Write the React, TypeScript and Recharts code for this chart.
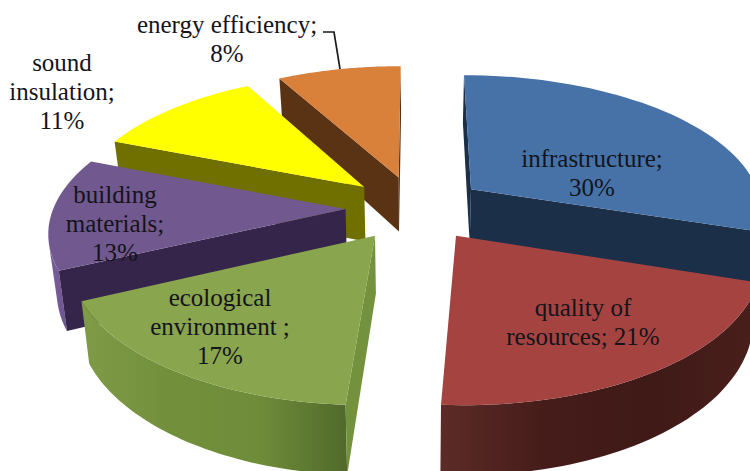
import { Pie, PieChart } from 'recharts';

// Slices in paint order: back slices first, the front red one last.
const CATEGORIES = [
  'infrastructure',
  'energy efficiency',
  'sound insulation',
  'building materials',
  'ecological environment',
  'quality of resources',
];
const SHARES = [30, 8, 11, 13, 17, 21];
const LABEL_LINES = [
  ['infrastructure;', '{pct}'],
  ['energy efficiency;', '{pct}'],
  ['sound', 'insulation;', '{pct}'],
  ['building', 'materials;', '{pct}'],
  ['ecological', 'environment ;', '{pct}'],
  ['quality of', 'resources; {pct}'],
];

const LABEL_ANCHORS = [
  { x: 592, y: 167 },
  { x: 227, y: 33 },
  { x: 62, y: 71 },
  { x: 115, y: 203 },
  { x: 220, y: 306 },
  { x: 583, y: 316 },
];
const LINE_GAP = 29;

const FACE_COLORS = ['#4672a8', '#d9803b', '#ffff00', '#71588f', '#89a54e', '#a44340'];
const CUT_COLORS = ['#1b2f49', '#5a3214', '#6f7000', '#35254a', '#74923e', '#4a1f1b'];
const RIM_STOPS = [
  ['#1b2f49', '#1b2f49'],
  ['#5a3214', '#5a3214'],
  ['#6f7000', '#6f7000'],
  ['#7a5f9d', '#6d5590'],
  ['#7f9b48', '#728f3c', '#6f8c3a', '#516a2b'],
  ['#5c2b27', '#451c19', '#3f1a17', '#4a1f1b'],
];

const chartData = CATEGORIES.map((name, i) => ({ name, share: SHARES[i], fill: FACE_COLORS[i] }));

// Tilted camera used to lay the flat pie over the page
const CX = 415.5;
const CY = 208;
const RADIUS = 292;
const EXPLODE = 70;
const TILT = 0.465;
const PERSPECTIVE = 0.0005;
const DEPTH = 56;
const DEPTH_SHRINK = 0.023;

type Pt = [number, number];

function project(u: number, v: number, lower: boolean): Pt {
  const f = 1 / (1 - PERSPECTIVE * v);
  const s = lower ? 1 - DEPTH_SHRINK : 1;
  const x = CX + u * f * s;
  const y = CY + TILT * v * f * s + (lower ? DEPTH * Math.pow(f, 1.5) : 0);
  return [x, y];
}

function area(pts: Pt[]) {
  let sum = 0;
  pts.forEach((p, i) => {
    const q = pts[(i + 1) % pts.length];
    sum += p[0] * q[1] - q[0] * p[1];
  });
  return sum / 2;
}

const toPath = (pts: Pt[]) => 'M' + pts.map((p) => `${p[0].toFixed(1)},${p[1].toFixed(1)}`).join('L') + 'Z';

function Slice3D(props: any) {
  const { startAngle, endAngle, outerRadius, name } = props;
  const index = CATEGORIES.indexOf(name);
  const rad = Math.PI / 180;
  const mid = ((startAngle + endAngle) / 2) * rad;
  const ou = EXPLODE * Math.cos(mid);
  const ov = -EXPLODE * Math.sin(mid);

  const world: Pt[] = [];
  const steps = 48;
  for (let i = 0; i <= steps; i++) {
    const a = (startAngle + ((endAngle - startAngle) * i) / steps) * rad;
    world.push([ou + outerRadius * Math.cos(a), ov - outerRadius * Math.sin(a)]);
  }

  const apexTop = project(ou, ov, false);
  const apexLow = project(ou, ov, true);
  const top = world.map((w) => project(w[0], w[1], false));
  const low = world.map((w) => project(w[0], w[1], true));
  const topPoly = [apexTop, ...top];
  const sign = Math.sign(area(topPoly));

  // A side wall shows only when it winds against the top face
  const cuts: Pt[][] = [
    [apexTop, top[0], low[0], apexLow],
    [top[steps], apexTop, apexLow, low[steps]],
  ].filter((q) => Math.sign(area(q as Pt[])) !== sign) as Pt[][];

  const rimTop: Pt[] = [];
  const rimLow: Pt[] = [];
  for (let i = 0; i < steps; i++) {
    const quad: Pt[] = [top[i], top[i + 1], low[i + 1], low[i]];
    if (Math.sign(area(quad)) !== sign) {
      if (!rimTop.length) {
        rimTop.push(top[i]);
        rimLow.push(low[i]);
      }
      rimTop.push(top[i + 1]);
      rimLow.push(low[i + 1]);
    }
  }
  const rim = [...rimTop, ...rimLow.reverse()];
  const xs = rim.map((p) => p[0]);
  const stops = RIM_STOPS[index];
  const gradId = `rim-${index}`;

  return (
    <g>
      {rim.length > 0 && (
        <>
          <defs>
            <linearGradient
              id={gradId}
              gradientUnits="userSpaceOnUse"
              x1={Math.min(...xs)}
              x2={Math.max(...xs)}
              y1={0}
              y2={0}
            >
              {stops.map((c, i) => (
                <stop key={i} offset={i / (stops.length - 1)} stopColor={c} />
              ))}
            </linearGradient>
          </defs>
          <path d={toPath(rim)} fill={`url(#${gradId})`} />
        </>
      )}
      {cuts.map((q, i) => (
        <path key={i} d={toPath(q)} fill={CUT_COLORS[index]} />
      ))}
      <path d={toPath(topPoly)} fill={FACE_COLORS[index]} />
    </g>
  );
}

function SliceLabel(props: any) {
  const index = CATEGORIES.indexOf(props.name);
  const anchor = LABEL_ANCHORS[index];
  const pct = `${SHARES[index]}%`;
  return (
    <g>
      {props.name === 'energy efficiency' && (
        <path d="M323,32 L334,32 L340,69" fill="none" stroke="#1a1a1a" strokeWidth={1.7} />
      )}
      {LABEL_LINES[index].map((line, i) => (
        <text
          key={i}
          x={anchor.x}
          y={anchor.y + i * LINE_GAP}
          textAnchor="middle"
          fontFamily="'Liberation Serif', serif"
          fontSize={25}
          fill="#14141a"
        >
          {line.replace('{pct}', pct)}
        </text>
      ))}
    </g>
  );
}

export default function App() {
  return (
    <div style={{ position: 'absolute', left: 0, top: 0, width: 750, height: 471, background: '#fff', overflow: 'hidden' }}>
      <PieChart width={750} height={471} margin={{ top: 0, right: 0, bottom: 0, left: 0 }}>
        <Pie
          data={chartData}
          dataKey="share"
          nameKey="name"
          cx={CX}
          cy={CY}
          innerRadius={0}
          outerRadius={RADIUS}
          startAngle={-18}
          endAngle={342}
          stroke="none"
          shape={Slice3D}
          label={SliceLabel}
          labelLine={false}
          isAnimationActive={false}
        />
      </PieChart>
    </div>
  );
}
